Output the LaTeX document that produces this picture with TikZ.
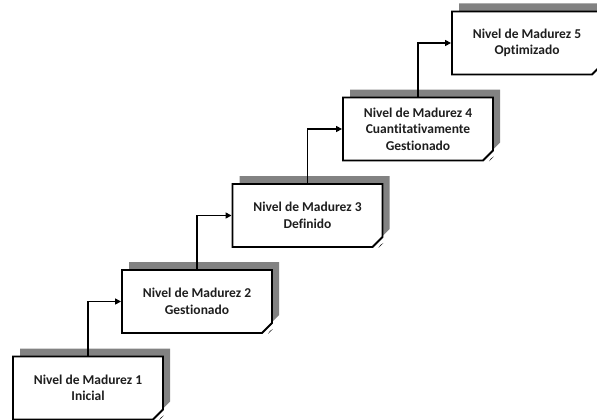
\documentclass[tikz,border=0pt]{standalone}
\usepackage{fontspec}
\setmainfont[Ligatures=NoCommon]{Carlito}
\usetikzlibrary{shapes.misc,shadows,arrows.meta}
\definecolor{shadowgray}{RGB}{130,130,130}
\definecolor{inkgray}{RGB}{30,30,30}
\tikzset{
  level/.style={
    chamfered rectangle, chamfered rectangle corners=south east,
    chamfered rectangle xsep=5pt, chamfered rectangle ysep=5pt,
    draw=black, line width=1.9pt, fill=white, text=inkgray,
    minimum width=150pt, minimum height=63pt, inner sep=0pt,
    align=center, font=\bfseries\fontsize{13.5}{16.5}\selectfont,
    general shadow={shadow xshift=7pt, shadow yshift=8pt, fill=shadowgray}
  },
  conn/.style={line width=1.8pt, -{Triangle[length=6pt,width=6pt]}},
  fold/.style={fill=black}
}
\begin{document}
\begin{tikzpicture}[x=1pt,y=-1pt]
  \useasboundingbox (0,0) rectangle (597,420);
  \node[level] (b1) at (88,388)    {Nivel de Madurez 1\\Inicial};
  \node[level] (b2) at (197,301.5) {Nivel de Madurez 2\\Gestionado};
  \node[level] (b3) at (307.5,215.5) {Nivel de Madurez 3\\Definido};
  \node[level] (b4) at (418,129)   {Nivel de Madurez 4\\Cuantitativamente\\Gestionado};
  \node[level] (b5) at (527,43)    {Nivel de Madurez 5\\Optimizado};
  % turned-up corner on each box
  \foreach \b in {b1,b2,b3,b4,b5}{
    \coordinate (\b-c) at (\b.east |- \b.south);
    \fill[fold] ([shift={(-5pt,0pt)}]\b-c) -- ([shift={(0pt,5pt)}]\b-c)
      -- ([shift={(-3pt,3pt)}]\b-c) -- cycle;
  }
  % steps between levels
  \draw[conn] (b1.north) |- (b2.west);
  \draw[conn] (b2.north) |- (b3.west);
  \draw[conn] (b3.north) |- (b4.west);
  \draw[conn] (b4.north) |- (b5.west);
\end{tikzpicture}
\end{document}
